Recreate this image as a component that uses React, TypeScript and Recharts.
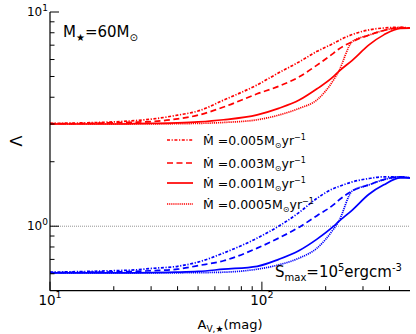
import { LineChart, Line, XAxis, YAxis, ReferenceLine } from "recharts";

// A_V,* (mag) sample points
const AV = [10, 15, 20, 25, 30, 40, 50, 66, 95, 120, 150, 182, 218, 230, 267, 320, 376, 450, 500];

// Lambda, red set (upper) – Mdot = 0.005, 0.003, 0.001, 0.0005
const RED_005 = [3.02, 3.04, 3.07, 3.11, 3.16, 3.3, 3.45, 3.88, 4.57, 5.2, 5.85, 6.55, 7.14, 7.35, 7.85, 8.25, 8.42, 8.48, 8.42];
const RED_003 = [3.01, 3.02, 3.04, 3.06, 3.08, 3.17, 3.3, 3.6, 4.15, 4.5, 4.98, 5.65, 6.43, 6.7, 7.27, 7.8, 8.2, 8.45, 8.42];
const RED_001 = [3.0, 3.0, 3.0, 3.01, 3.02, 3.04, 3.07, 3.14, 3.31, 3.55, 3.88, 4.38, 5.0, 5.27, 5.95, 7.02, 7.82, 8.39, 8.4];
const RED_0005 = [3.0, 3.0, 3.0, 3.0, 3.0, 3.01, 3.02, 3.05, 3.14, 3.3, 3.55, 3.89, 4.82, 5.27, 7.27, 7.8, 8.2, 8.45, 8.42];

// Lambda, blue set (lower)
const BLUE_005 = [0.61, 0.615, 0.62, 0.625, 0.635, 0.65, 0.68, 0.75, 0.88, 1.0, 1.16, 1.35, 1.5, 1.53, 1.61, 1.67, 1.7, 1.7, 1.68];
const BLUE_003 = [0.607, 0.61, 0.612, 0.615, 0.62, 0.63, 0.655, 0.69, 0.79, 0.88, 0.99, 1.12, 1.26, 1.32, 1.46, 1.56, 1.65, 1.7, 1.68];
const BLUE_001 = [0.605, 0.605, 0.605, 0.606, 0.607, 0.61, 0.615, 0.63, 0.65, 0.7, 0.77, 0.87, 1.0, 1.05, 1.19, 1.41, 1.56, 1.68, 1.68];
const BLUE_0005 = [0.605, 0.605, 0.605, 0.605, 0.605, 0.606, 0.607, 0.61, 0.63, 0.66, 0.71, 0.79, 0.97, 1.05, 1.46, 1.56, 1.65, 1.7, 1.68];

const MDOT_LABELS = ["0.005", "0.003", "0.001", "0.0005"];
const X_TICKS = [10, 20, 30, 40, 50, 60, 70, 80, 90, 100, 200, 300, 400];
const Y_TICKS = [0.6, 0.7, 0.8, 0.9, 1, 2, 3, 4, 5, 6, 7, 8, 9, 10];

const RED = "#ff0000";
const BLUE = "#0000ff";
const DASHES = ["3 1.6 1.2 1.6", "6 3.5", undefined, "1.2 0.9"];
const FONT = "DejaVu Sans";

const data = AV.map((x, i) => ({
  x,
  r0: RED_005[i],
  r1: RED_003[i],
  r2: RED_001[i],
  r3: RED_0005[i],
  b0: BLUE_005[i],
  b1: BLUE_003[i],
  b2: BLUE_001[i],
  b3: BLUE_0005[i],
}));

const exp10 = (v: number) => Math.round(Math.log10(v));
const isMajor = (v: number) => Math.abs(Math.log10(v) - exp10(v)) < 1e-9;

const BottomTick = (p: any) => {
  const v = p.payload.value;
  const major = isMajor(v);
  return (
    <g>
      <line x1={p.x} x2={p.x} y1={p.y} y2={p.y - (major ? 9 : 4.5)} stroke="#000" strokeWidth={1} />
      {major && (
        <text x={p.x} y={p.y + 14.5} textAnchor="middle" fontFamily={FONT} fontSize={13.5} fill="#000">
          10<tspan dy={-7} fontSize={9.5}>{exp10(v)}</tspan>
        </text>
      )}
    </g>
  );
};

const TopTick = (p: any) => {
  const major = isMajor(p.payload.value);
  return <line x1={p.x} x2={p.x} y1={p.y} y2={p.y + (major ? 9 : 4.5)} stroke="#000" strokeWidth={1} />;
};

const LeftTick = (p: any) => {
  const v = p.payload.value;
  const major = isMajor(v);
  return (
    <g>
      <line x1={p.x} x2={p.x + (major ? 9 : 4.5)} y1={p.y} y2={p.y} stroke="#000" strokeWidth={1} />
      {major && (
        <text x={p.x - 2} y={p.y + 4} textAnchor="end" fontFamily={FONT} fontSize={12} fill="#000">
          10<tspan dy={-5} fontSize={9}>{exp10(v)}</tspan>
        </text>
      )}
    </g>
  );
};

const RightTick = (p: any) => {
  const major = isMajor(p.payload.value);
  return <line x1={p.x} x2={p.x - (major ? 9 : 4.5)} y1={p.y} y2={p.y} stroke="#000" strokeWidth={1} />;
};

export default function App() {
  const W = 408;
  const H = 334;
  return (
    <div style={{ position: "relative", width: W, height: H, marginLeft: 8 }}>
      <style>{"body{margin:0}"}</style>
      <LineChart width={W} height={H} data={data} margin={{ top: 12, right: 6, bottom: 0, left: 0 }}>
        <XAxis
          xAxisId="b"
          dataKey="x"
          type="number"
          scale="log"
          domain={[10, 500]}
          allowDataOverflow
          ticks={X_TICKS}
          interval={0}
          tick={BottomTick}
          tickLine={false}
          tickSize={0}
          tickMargin={0}
          height={43.3}
          axisLine={{ stroke: "#000", strokeWidth: 1.2 }}
        />
        <XAxis
          xAxisId="t"
          orientation="top"
          dataKey="x"
          type="number"
          scale="log"
          domain={[10, 500]}
          allowDataOverflow
          ticks={X_TICKS}
          interval={0}
          tick={TopTick}
          tickLine={false}
          tickSize={0}
          tickMargin={0}
          height={0}
          axisLine={{ stroke: "#000", strokeWidth: 1.2 }}
        />
        <YAxis
          yAxisId="l"
          type="number"
          scale="log"
          domain={[0.5, 10]}
          allowDataOverflow
          ticks={Y_TICKS}
          interval={0}
          tick={LeftTick}
          tickLine={false}
          tickSize={0}
          tickMargin={0}
          width={42}
          axisLine={{ stroke: "#000", strokeWidth: 1.2 }}
        />
        <YAxis
          yAxisId="r"
          orientation="right"
          type="number"
          scale="log"
          domain={[0.5, 10]}
          allowDataOverflow
          ticks={Y_TICKS}
          interval={0}
          tick={RightTick}
          tickLine={false}
          tickSize={0}
          tickMargin={0}
          width={0}
          axisLine={{ stroke: "#000", strokeWidth: 1.2 }}
        />
        <ReferenceLine xAxisId="b" yAxisId="l" y={1} stroke="#777" strokeWidth={0.8} strokeDasharray="1 1" />
        {["r0", "r1", "r2", "r3"].map((k, i) => (
          <Line
            key={k}
            xAxisId="b"
            yAxisId="l"
            dataKey={k}
            type="monotone"
            stroke={RED}
            strokeWidth={1.7}
            strokeDasharray={DASHES[i]}
            dot={false}
            isAnimationActive={false}
          />
        ))}
        {["b0", "b1", "b2", "b3"].map((k, i) => (
          <Line
            key={k}
            xAxisId="b"
            yAxisId="l"
            dataKey={k}
            type="monotone"
            stroke={BLUE}
            strokeWidth={1.7}
            strokeDasharray={DASHES[i]}
            dot={false}
            isAnimationActive={false}
          />
        ))}
      </LineChart>
      <svg
        width={W}
        height={H}
        style={{ position: "absolute", left: 0, top: 0, pointerEvents: "none" }}
        fontFamily={FONT}
      >
        <text x={55} y={37} fontSize={15}>
          M<tspan dy={4} fontSize={10}>★</tspan>
          <tspan dy={-4}>=60M</tspan>
          <tspan dy={4} fontSize={10}>⊙</tspan>
        </text>
        <text x={267} y={277} fontSize={15}>
          S<tspan dy={4} fontSize={10}>max</tspan>
          <tspan dy={-4}>=10</tspan>
          <tspan dy={-6} fontSize={10}>5</tspan>
          <tspan dy={6}>ergcm</tspan>
          <tspan dy={-6} fontSize={10}>-3</tspan>
        </text>
        {MDOT_LABELS.map((m, i) => {
          const cy = [140, 163, 183, 204][i];
          return (
            <g key={m}>
              <line x1={159} x2={185} y1={cy} y2={cy} stroke={RED} strokeWidth={1.7} strokeDasharray={DASHES[i]} />
              <text x={195} y={cy + 4.5} fontSize={12.5}>
                Ṁ ={m}M<tspan dy={3} fontSize={8}>⊙</tspan>
                <tspan dy={-3}>yr</tspan>
                <tspan dy={-5} fontSize={8}>−1</tspan>
              </text>
            </g>
          );
        })}
        <text x={222} y={329} fontSize={13} textAnchor="middle">
          A<tspan dy={3} fontSize={9}>V,★</tspan>
          <tspan dy={-3}>(mag)</tspan>
        </text>
        <text x={0} y={0} fontSize={16} textAnchor="middle" transform="translate(14,141) rotate(-90)">
          Λ
        </text>
      </svg>
    </div>
  );
}
